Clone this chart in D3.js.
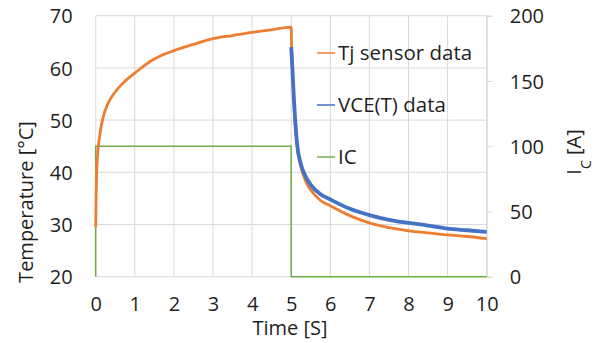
<!DOCTYPE html>
<html>
<head>
<meta charset="utf-8">
<script src="https://cdn.jsdelivr.net/npm/d3@7"></script>
<style>
  body { margin: 0; background: #fff; }
  text { font-family: "Open Sans", sans-serif; fill: #1f1f1f; }
</style>
</head>
<body>
<div id="chart"></div>
<script>
// Tj sensor data (time [s], temperature [°C])
var tjTime = [0, 0.01, 0.025, 0.05, 0.08, 0.11, 0.15, 0.2, 0.28, 0.35, 0.45, 0.55, 0.65, 0.8, 1, 1.25, 1.5, 1.75, 2, 2.5, 3, 3.5, 4, 4.5, 5,
    5.01, 5.05, 5.1, 5.15, 5.25, 5.37, 5.5, 5.75, 6, 6.5, 7, 7.5, 8, 8.5, 9, 9.5, 10];
var tjTemp = [29.5, 35, 40, 43.5, 45.8, 47.4, 49.2, 50.8, 52.6, 53.7, 54.9, 55.9, 56.7, 57.8, 59.0, 60.5, 61.7, 62.6, 63.3, 64.5, 65.6, 66.2, 66.8, 67.3, 67.8,
    64, 56, 49.5, 45, 41, 38.3, 36.6, 34.6, 33.6, 31.7, 30.3, 29.4, 28.8, 28.4, 28.0, 27.7, 27.3];

// VCE(T) data
var vceTime = [5.0, 5.03, 5.07, 5.15, 5.25, 5.37, 5.5, 5.75, 6, 6.5, 7, 7.5, 8, 8.5, 9, 9.5, 10];
var vceTemp = [64, 60, 54, 45.5, 41.5, 39.2, 37.6, 35.8, 34.8, 33.0, 31.8, 30.9, 30.3, 29.8, 29.2, 28.9, 28.6];

// IC (current [A])
var icTime = [0, 0, 5, 5, 10];
var icValue = [0, 100, 100, 0, 0];

var xTicks = [0, 1, 2, 3, 4, 5, 6, 7, 8, 9, 10];
var tempTicks = [20, 30, 40, 50, 60, 70];
var currentTicks = [0, 50, 100, 150, 200];

var width = 593,
    height = 343,
    margin = { top: 15.7, right: 106.3, bottom: 66.3, left: 95.7 };

var x = d3.scaleLinear().domain([0, 10]).range([margin.left, width - margin.right]);
var yT = d3.scaleLinear().domain([20, 70]).range([height - margin.bottom, margin.top]);
var yI = d3.scaleLinear().domain([0, 200]).range([height - margin.bottom, margin.top]);

var svg = d3.select("#chart")
    .append("svg")
    .attr("width", width)
    .attr("height", height);

// gridlines
svg.append("g")
    .selectAll("line")
    .data(tempTicks)
    .enter().append("line")
    .attr("x1", x(0)).attr("x2", x(10))
    .attr("y1", d => yT(d)).attr("y2", d => yT(d))
    .attr("stroke", "#d9d9d9").attr("stroke-width", 1);

svg.append("g")
    .selectAll("line")
    .data(xTicks)
    .enter().append("line")
    .attr("x1", d => x(d)).attr("x2", d => x(d))
    .attr("y1", yT(20)).attr("y2", yT(70))
    .attr("stroke", "#d9d9d9").attr("stroke-width", 1);

// left axis labels
var leftAxis = svg.append("g")
    .attr("transform", "translate(" + (margin.left - 23) + ",0)")
    .call(d3.axisLeft(yT).tickValues(tempTicks).tickSize(0).tickPadding(0));
leftAxis.select(".domain").remove();
leftAxis.selectAll("text").style("font-size", "20px").attr("dy", "0.36em");

// bottom axis labels
var bottomAxis = svg.append("g")
    .attr("transform", "translate(0," + (yT(20) + 20) + ")")
    .call(d3.axisBottom(x).tickValues(xTicks).tickSize(0).tickPadding(0));
bottomAxis.select(".domain").remove();
bottomAxis.selectAll("text").style("font-size", "20px").attr("dy", "0.71em");

// right axis
var rightAxis = svg.append("g")
    .attr("transform", "translate(" + x(10) + ",0)")
    .call(d3.axisRight(yI).tickValues(currentTicks).tickSize(6).tickPadding(17));
rightAxis.select(".domain").attr("stroke", "#d9d9d9");
rightAxis.selectAll(".tick line").attr("stroke", "#d9d9d9");
rightAxis.selectAll("text").style("font-size", "20px").attr("dy", "0.36em");

// series
function series(xs, ys, yScale) {
    return xs.map(function (t, i) { return [x(t), yScale(ys[i])]; });
}

var line = d3.line().curve(d3.curveMonotoneX);

svg.append("path")
    .attr("d", d3.line()(series(icTime, icValue, yI)))
    .attr("fill", "none").attr("stroke", "#70ad47").attr("stroke-width", 1.5);

svg.append("path")
    .attr("d", line(series(tjTime, tjTemp, yT)))
    .attr("fill", "none").attr("stroke", "#ed7d31").attr("stroke-width", 2.8);

svg.append("path")
    .attr("d", line(series(vceTime, vceTemp, yT)))
    .attr("fill", "none").attr("stroke", "#4472c4").attr("stroke-width", 3.8);

// legend
var legendItems = ["Tj sensor data", "VCE(T) data", "IC"];
var legendColors = ["#ed7d31", "#4472c4", "#70ad47"];

var legend = svg.append("g")
    .selectAll("g")
    .data(legendItems)
    .enter().append("g")
    .attr("transform", (d, i) => "translate(317," + (53 + i * 52) + ")");

legend.append("line")
    .attr("x1", 0).attr("x2", 18)
    .attr("stroke", (d, i) => legendColors[i]).attr("stroke-width", 1.5);

legend.append("text")
    .attr("x", 21).attr("dy", "0.36em")
    .style("font-size", "20.5px")
    .text(d => d);

// axis titles
svg.append("text")
    .attr("transform", "translate(33,202) rotate(-90)")
    .attr("text-anchor", "middle")
    .style("font-size", "20px")
    .text("Temperature [°C]");

svg.append("text")
    .attr("x", 290).attr("y", 335)
    .attr("text-anchor", "middle")
    .style("font-size", "20px")
    .text("Time [S]");

var rt = svg.append("text")
    .attr("transform", "translate(581,152) rotate(-90)")
    .attr("text-anchor", "middle")
    .style("font-size", "20px");
rt.append("tspan").text("I");
rt.append("tspan").attr("baseline-shift", "sub").style("font-size", "14px").text("C");
rt.append("tspan").text(" [A]");
</script>
</body>
</html>
